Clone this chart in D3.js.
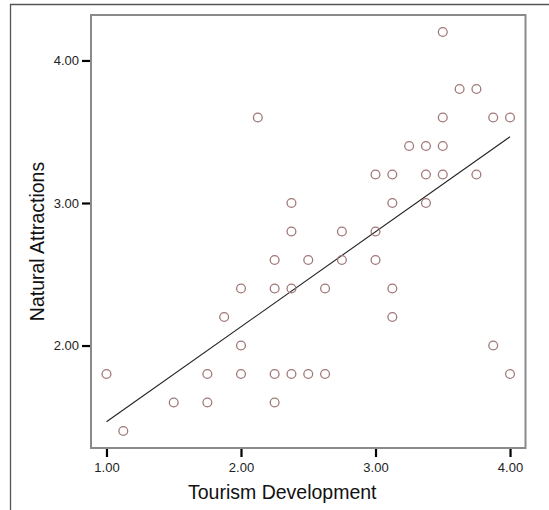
<!DOCTYPE html>
<html>
<head>
<meta charset="utf-8">
<script src="https://cdn.jsdelivr.net/npm/d3@7/dist/d3.min.js"></script>
<style>
  html, body { margin: 0; padding: 0; background: #fff; }
  svg { display: block; }
</style>
</head>
<body>
<svg id="chart" width="549" height="510"></svg>
<script>
// Data
const tourismDevelopment = [
  3.5,
  3.625, 3.75,
  2.125, 3.5, 3.875, 4.0,
  3.25, 3.375, 3.5,
  3.0, 3.125, 3.375, 3.5, 3.75,
  2.375, 3.125, 3.375,
  2.375, 2.75, 3.0,
  2.25, 2.5, 2.75, 3.0,
  2.0, 2.25, 2.375, 2.625, 3.125,
  1.875, 3.125,
  2.0, 3.875,
  1.0, 1.75, 2.0, 2.25, 2.375, 2.5, 2.625, 4.0,
  1.5, 1.75, 2.25,
  1.125
];
const naturalAttractions = [
  4.2,
  3.8, 3.8,
  3.6, 3.6, 3.6, 3.6,
  3.4, 3.4, 3.4,
  3.2, 3.2, 3.2, 3.2, 3.2,
  3.0, 3.0, 3.0,
  2.8, 2.8, 2.8,
  2.6, 2.6, 2.6, 2.6,
  2.4, 2.4, 2.4, 2.4, 2.4,
  2.2, 2.2,
  2.0, 2.0,
  1.8, 1.8, 1.8, 1.8, 1.8, 1.8, 1.8, 1.8,
  1.6, 1.6, 1.6,
  1.4
];
// Fit line end points (linear regression as drawn)
const fitX = [1.0, 4.0];
const fitY = [1.465, 3.465];
const xTicks = [1, 2, 3, 4];
const yTicks = [2, 3, 4];
const xLabel = "Tourism Development";
const yLabel = "Natural Attractions";

const svg = d3.select("#chart");
const L = 91, R = 525.5, T = 15, B = 448;

const x = d3.scaleLinear().domain([0.885, 4.115]).range([L, R]);
const y = d3.scaleLinear().domain([1.281, 4.319]).range([B, T]);

// outer frame (top and left edges)
svg.append("path")
  .attr("d", "M10.5,510 V4.5 H549")
  .attr("fill", "none")
  .attr("stroke", "#555")
  .attr("stroke-width", 1.3);

// plot frame
svg.append("rect")
  .attr("x", L).attr("y", T)
  .attr("width", R - L).attr("height", B - T)
  .attr("fill", "#fff")
  .attr("stroke", "#8a8a8a")
  .attr("stroke-width", 2);

// axes
const fmt = d3.format(".2f");
const gx = svg.append("g")
  .attr("transform", `translate(0,${B + 1})`)
  .call(d3.axisBottom(x).tickValues(xTicks).tickFormat(fmt).tickSize(8).tickPadding(6));
const gy = svg.append("g")
  .attr("transform", `translate(${L - 1},0)`)
  .call(d3.axisLeft(y).tickValues(yTicks).tickFormat(fmt).tickSize(8).tickPadding(3));

[gx, gy].forEach(g => {
  g.select(".domain").remove();
  g.selectAll(".tick line").attr("stroke", "#000").attr("stroke-width", 2.2);
  g.selectAll(".tick text")
    .attr("fill", "#222")
    .style("font-family", "'Liberation Sans', Arial, sans-serif")
    .style("font-size", "13px");
});

// regression line
const line = d3.line().x(d => x(d[0])).y(d => y(d[1]));
svg.append("path")
  .datum(d3.zip(fitX, fitY))
  .attr("d", line)
  .attr("fill", "none")
  .attr("stroke", "#222")
  .attr("stroke-width", 1.1);

// points
const pts = d3.zip(tourismDevelopment, naturalAttractions);
svg.append("g").selectAll("circle")
  .data(pts)
  .join("circle")
  .attr("cx", d => x(d[0]))
  .attr("cy", d => y(d[1]))
  .attr("r", 4.4)
  .attr("fill", "none")
  .attr("stroke", "#a07878")
  .attr("stroke-width", 1.3);

// axis titles
svg.append("text")
  .attr("x", (L + R) / 2 - 26)
  .attr("y", 499)
  .attr("text-anchor", "middle")
  .attr("fill", "#111")
  .style("font-family", "'Liberation Sans', Arial, sans-serif")
  .style("font-size", "19.5px")
  .text(xLabel);

svg.append("text")
  .attr("transform", `translate(44,241.5) rotate(-90)`)
  .attr("text-anchor", "middle")
  .attr("fill", "#111")
  .style("font-family", "'Liberation Sans', Arial, sans-serif")
  .style("font-size", "19.5px")
  .text(yLabel);
</script>
</body>
</html>
